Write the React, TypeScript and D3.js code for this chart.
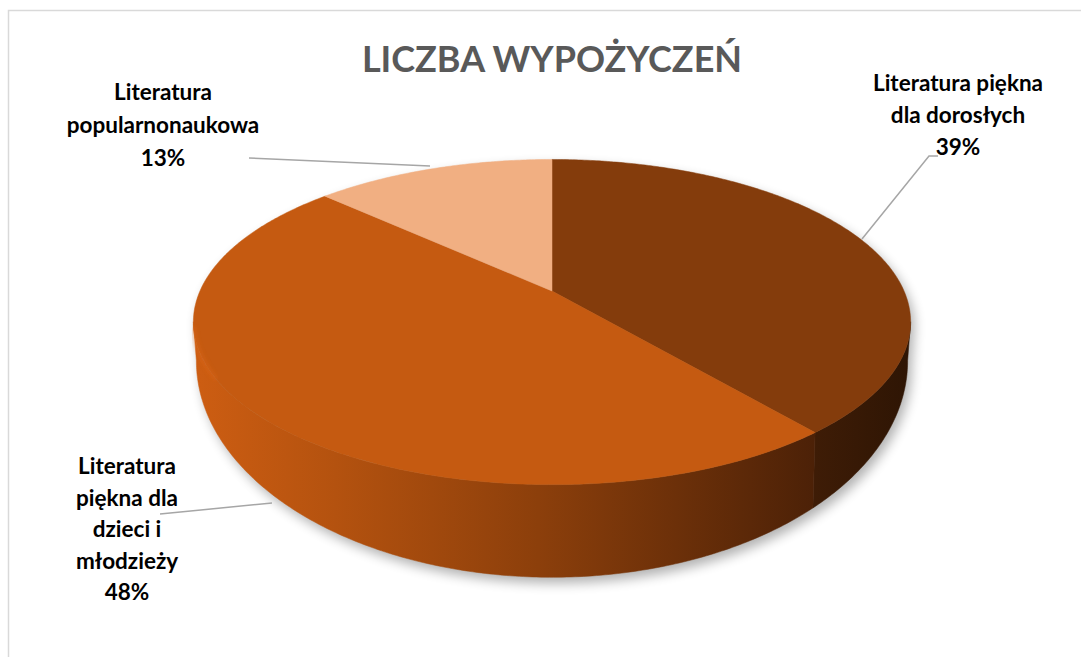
import React from "react";
import * as d3 from "d3";

const categories = [
  "Literatura piękna dla dorosłych",
  "Literatura piękna dla dzieci i młodzieży",
  "Literatura popularnonaukowa",
];
const values = [39, 48, 13];
const labelLines = [
  ["Literatura piękna", "dla dorosłych"],
  ["Literatura", "piękna dla", "dzieci i", "młodzieży"],
  ["Literatura", "popularnonaukowa"],
];
const topColors = ["#843C0C", "#C55A11", "#F1AF82"];
const title = "LICZBA WYPOŻYCZEŃ";

const W = 1081;
const H = 657;
const CX = 552;
const CY = 291;
const FOC = 1651;
const DIST = 4.69;
const S = 0.445;
const C = Math.sqrt(1 - S * S);

function proj(theta: number, r = 1): [number, number] {
  const x = r * Math.sin(theta);
  const z = -r * Math.cos(theta);
  const yc = -z * S;
  const zc = DIST - z * C;
  return [CX + (FOC * x) / zc, CY - (FOC * yc) / zc];
}

// bounding ellipse of projected top rim
const rimSamples = d3.range(0, 721).map((i) => proj((i / 720) * 2 * Math.PI));
const xExt = d3.extent(rimSamples, (p) => p[0]) as [number, number];
const yExt = d3.extent(rimSamples, (p) => p[1]) as [number, number];
const TCX = (xExt[0] + xExt[1]) / 2;
const TCY = (yExt[0] + yExt[1]) / 2;
const TRX = (xExt[1] - xExt[0]) / 2;
const TRY = (yExt[1] - yExt[0]) / 2;
// bottom rim ellipse (perspective makes it more open)
const BRX = TRX - 3;
const BRY = TRY * 1.33;
const BCY = TCY + 39;

function projBottom(theta: number): [number, number] {
  const [sx, sy] = proj(theta);
  const u = (sx - TCX) / TRX;
  const v = (sy - TCY) / TRY;
  return [TCX + u * BRX, BCY + v * BRY];
}

function arcPts(a0: number, a1: number, bottom = false): [number, number][] {
  const n = Math.max(2, Math.ceil(Math.abs(a1 - a0) / 0.01));
  const pts: [number, number][] = [];
  for (let i = 0; i <= n; i++) {
    const a = a0 + ((a1 - a0) * i) / n;
    pts.push(bottom ? projBottom(a) : proj(a));
  }
  return pts;
}

const line = d3.line<[number, number]>();

export default function App() {
  const pie = d3
    .pie<number>()
    .sort(null)
    .startAngle(0)
    .endAngle(2 * Math.PI)(values);
  const total = d3.sum(values);
  const pct = d3.format(".0%");

  const cosLim = -1 / (DIST * C);
  const vis0 = Math.acos(cosLim) - 0.05;
  const vis1 = 2 * Math.PI - vis0;

  const walls = pie
    .map((p, i) => {
      const a0 = Math.max(p.startAngle, vis0);
      const a1 = Math.min(p.endAngle, vis1);
      if (a1 <= a0) return null;
      const top = arcPts(a0, a1);
      const bot = arcPts(a0, a1, true).reverse();
      return { i, d: line([...top, ...bot])! + "Z" };
    })
    .filter(Boolean) as { i: number; d: string }[];

  const tops = pie.map((p, i) => {
    const pts = [[CX, CY] as [number, number], ...arcPts(p.startAngle, p.endAngle)];
    return { i, d: line(pts)! + "Z" };
  });

  const silhouette =
    line([...arcPts(vis1 - 2 * Math.PI, vis0), ...arcPts(vis0, vis1, true)])! + "Z";

  const rim = line(arcPts(Math.PI * 1.33, vis1 - 0.03))!;

  const labels = [
    { x: 958, y: 91 },
    { x: 127, y: 474 },
    { x: 163, y: 100 },
  ];
  const lhs = [32, 31.5, 33];

  const leaders = [
    [
      [862, 239],
      [929, 156],
      [938, 156],
    ],
    [
      [160, 514],
      [272, 503],
    ],
    [
      [249, 158],
      [430, 166],
    ],
  ] as [number, number][][];

  const font = "Lato, 'Open Sans', sans-serif";

  return (
    <svg
      width={W}
      height={H}
      style={{ position: "absolute", left: 0, top: 0, background: "#fff" }}
    >
      <defs>
        <filter id="shadow" x="-20%" y="-20%" width="140%" height="140%">
          <feGaussianBlur stdDeviation="6" />
        </filter>
        <filter id="soft" x="-5%" y="-5%" width="110%" height="110%">
          <feGaussianBlur stdDeviation="2" />
        </filter>
        <linearGradient id="wall1" gradientUnits="userSpaceOnUse" x1={200} y1={0} x2={815} y2={0}>
          <stop offset="0" stopColor="#cc5d12" />
          <stop offset="0.22" stopColor="#b4520f" />
          <stop offset="0.55" stopColor="#8c3f0b" />
          <stop offset="1" stopColor="#4c2107" />
        </linearGradient>
        <linearGradient id="wall0" gradientUnits="userSpaceOnUse" x1={815} y1={0} x2={910} y2={0}>
          <stop offset="0" stopColor="#3e1c06" />
          <stop offset="1" stopColor="#2e1504" />
        </linearGradient>
      </defs>

      <rect x={8.5} y={10.5} width={1200} height={800} fill="#fff" stroke="#d9d9d9" strokeWidth={1.5} />

      <text x={552} y={72} textAnchor="middle" fontFamily={font} fontWeight={700} fontSize={36} fill="#595959">
        {title}
      </text>

      <path d={silhouette} transform="translate(4,6)" fill="#000" opacity={0.3} filter="url(#shadow)" />

      {walls.map((w) => (
        <path key={"w" + w.i} d={w.d} fill={`url(#wall${w.i})`} stroke={`url(#wall${w.i})`} strokeWidth={0.5} />
      ))}

      {tops.map((t) => (
        <path key={"t" + t.i} d={t.d} fill={topColors[t.i]} stroke={topColors[t.i]} strokeWidth={0.5} />
      ))}

      <path d={rim} fill="none" stroke="#e36a1c" strokeWidth={3} opacity={0.5} filter="url(#soft)" />

      {leaders.map((pts, i) => (
        <path key={"l" + i} d={line(pts)!} fill="none" stroke="#a6a6a6" strokeWidth={1.5} />
      ))}

      {labels.map((lb, i) => (
        <text
          key={"lab" + i}
          x={lb.x}
          y={lb.y}
          textAnchor="middle"
          fontFamily={font}
          fontWeight={700}
          fontSize={22.5}
          fill="#000"
        >
          {[...labelLines[i], pct(values[i] / total)].map((s, k) => (
            <tspan key={k} x={lb.x} y={lb.y + k * lhs[i]}>
              {s}
            </tspan>
          ))}
          <title>{categories[i]}</title>
        </text>
      ))}
    </svg>
  );
}
